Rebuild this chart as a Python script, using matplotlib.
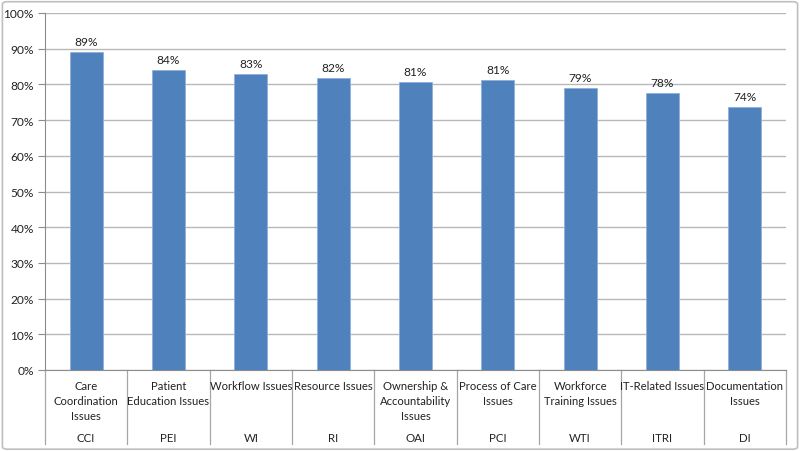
import matplotlib.pyplot as plt
from matplotlib.patches import FancyBboxPatch
from matplotlib.ticker import PercentFormatter

# Data
names = ["Care\nCoordination\nIssues", "Patient\nEducation Issues", "Workflow Issues",
         "Resource Issues", "Ownership &\nAccountability\nIssues", "Process of Care\nIssues",
         "Workforce\nTraining Issues", "IT-Related Issues", "Documentation\nIssues"]
codes = ["CCI", "PEI", "WI", "RI", "OAI", "PCI", "WTI", "ITRI", "DI"]
values = [89.0, 84.1, 83.0, 81.9, 80.8, 81.3, 78.9, 77.6, 73.6]
labels = ["89%", "84%", "83%", "82%", "81%", "81%", "79%", "78%", "74%"]

plt.rcParams['font.family'] = ['Lato', 'DejaVu Sans']
plt.rcParams['font.size'] = 8.6

fig = plt.figure(figsize=(8, 4.52), dpi=100)
ax = fig.add_axes([45 / 800, 81 / 452, 741 / 800, 357 / 452])

# outer frame
fig.patches.append(FancyBboxPatch((0.003, 0.004), 0.994, 0.99, boxstyle="round,pad=0,rounding_size=0.006",
                                  transform=fig.transFigure, fill=False, ec="#BFBFBF", lw=1.2))

x = list(range(len(values)))
bars = ax.bar(x, values, width=0.4, color="#4F81BD", edgecolor="#8EB0DC", linewidth=0.6, zorder=3)

for xi, v, lab in zip(x, values, labels):
    ax.annotate(lab, (xi, v), xytext=(0, 3.5), textcoords="offset points",
                ha="center", va="bottom", color="#222222")

ax.set_xlim(-0.5, len(values) - 0.5)
ax.set_ylim(0, 100)
ax.set_yticks(range(0, 101, 10))
ax.yaxis.set_major_formatter(PercentFormatter(decimals=0))
ax.grid(axis="y", color="#B8B8B8", lw=1.0, zorder=0)
ax.set_axisbelow(True)

for s in ["top", "right"]:
    ax.spines[s].set_visible(False)
ax.spines["left"].set_color("#8C8C8C")
ax.spines["bottom"].set_color("#8C8C8C")
ax.tick_params(axis="y", length=5, color="#8C8C8C", pad=3, labelcolor="#222222")
ax.set_xticks([])

# two-level category axis
trans = ax.get_xaxis_transform()
sep_bottom = -74 / 357
for b in [i - 0.5 for i in range(len(values) + 1)]:
    ax.plot([b, b], [0, sep_bottom], transform=trans, color="#A6A6A6", lw=0.9, clip_on=False)

for xi, n, c in zip(x, names, codes):
    ax.annotate(n, (xi, 0), xycoords=trans, xytext=(0, -7), textcoords="offset points",
                ha="center", va="top", linespacing=1.48, fontsize=8.1, color="#222222")
    ax.annotate(c, (xi, 0), xycoords=trans, xytext=(0, -48.5), textcoords="offset points",
                ha="center", va="center", fontsize=8.3, color="#222222")

fig.savefig("out.png", dpi=100)
